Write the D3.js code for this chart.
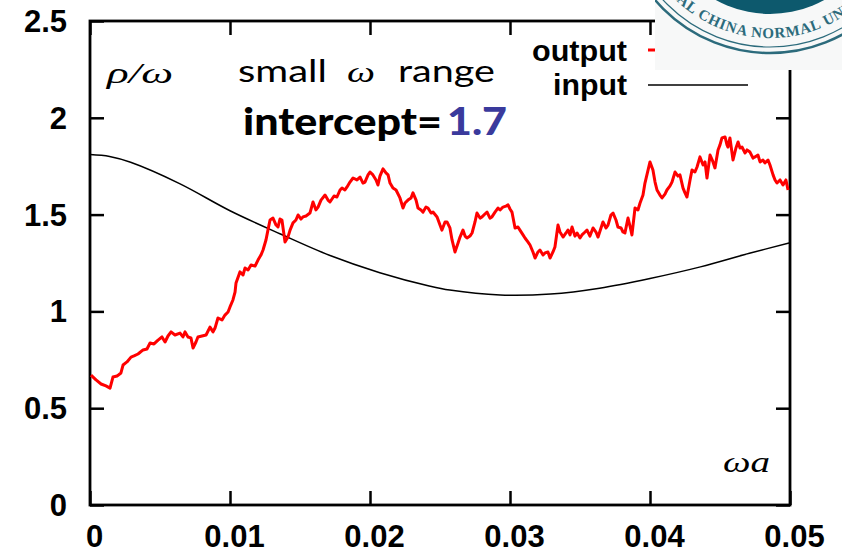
<!DOCTYPE html>
<html><head><meta charset="utf-8">
<script src="https://cdn.jsdelivr.net/npm/d3@7"></script>
<style>body{margin:0;background:#fff}</style>
</head><body><svg id="c" width="842" height="553"></svg>
<script>
const xTicks=[0,0.01,0.02,0.03,0.04,0.05];
const xTickLabels=["0","0.01","0.02","0.03","0.04","0.05"];
const yTicks=[0,0.5,1,1.5,2,2.5];
const yTickLabels=["0","0.5","1","1.5","2","2.5"];
const seriesNames=["output","input"];

const inputOmega=[0,0.0014,0.0029,0.0064,0.01,0.0136,0.0171,0.0207,0.0243,0.0257,0.0293,0.0329,0.0364,0.04,0.0436,0.0471,0.05];
const inputRho=[1.81,1.80,1.77,1.66,1.52,1.40,1.29,1.20,1.13,1.11,1.085,1.09,1.12,1.17,1.23,1.30,1.355];

const outputOmega=[
0.00007,0.00043,0.00079,0.00114,0.00143,0.00164,0.00193,0.00221,0.00236,0.00264,
0.00293,0.00314,0.00343,0.00379,0.00407,0.00429,0.00457,0.00486,0.00514,0.00536,
0.00557,0.00579,0.00607,0.00643,0.00664,0.00679,0.00700,0.00721,0.00736,0.00757,
0.00771,0.00800,0.00829,0.00857,0.00879,0.00893,0.00914,0.00943,0.00964,0.00986,
0.01000,0.01021,0.01036,0.01043,0.01071,0.01093,0.01107,0.01129,0.01150,0.01179,
0.01200,0.01221,0.01236,0.01257,0.01271,0.01286,0.01307,0.01329,0.01343,0.01357,
0.01371,0.01393,0.01414,0.01429,0.01450,0.01471,0.01486,0.01507,0.01521,0.01543,
0.01571,0.01593,0.01614,0.01629,0.01650,0.01679,0.01700,0.01714,0.01743,0.01764,
0.01786,0.01800,0.01821,0.01836,0.01857,0.01879,0.01907,0.01929,0.01950,0.01964,
0.01986,0.02000,0.02021,0.02043,0.02057,0.02071,0.02093,0.02114,0.02129,0.02143,
0.02164,0.02186,0.02214,0.02236,0.02250,0.02271,0.02293,0.02307,0.02329,0.02343,
0.02364,0.02379,0.02400,0.02414,0.02436,0.02450,0.02479,0.02500,0.02514,0.02536,
0.02550,0.02571,0.02586,0.02607,0.02629,0.02643,0.02664,0.02679,0.02693,0.02714,
0.02729,0.02750,0.02764,0.02786,0.02800,0.02821,0.02836,0.02857,0.02871,0.02893,
0.02914,0.02929,0.02950,0.02971,0.02986,0.03000,0.03014,0.03036,0.03057,0.03071,
0.03093,0.03107,0.03129,0.03143,0.03164,0.03179,0.03200,0.03214,0.03236,0.03250,
0.03271,0.03286,0.03307,0.03321,0.03343,0.03357,0.03379,0.03400,0.03414,0.03429,
0.03443,0.03464,0.03479,0.03500,0.03514,0.03536,0.03550,0.03571,0.03593,0.03614,
0.03629,0.03650,0.03664,0.03686,0.03700,0.03721,0.03736,0.03757,0.03771,0.03793,
0.03807,0.03821,0.03843,0.03857,0.03871,0.03893,0.03914,0.03929,0.03950,0.03964,
0.03986,0.04000,0.04021,0.04036,0.04050,0.04071,0.04086,0.04107,0.04121,0.04143,
0.04157,0.04179,0.04200,0.04214,0.04236,0.04250,0.04264,0.04286,0.04300,0.04321,
0.04336,0.04357,0.04379,0.04393,0.04407,0.04429,0.04450,0.04464,0.04486,0.04500,
0.04514,0.04536,0.04550,0.04557,0.04571,0.04593,0.04614,0.04629,0.04643,0.04657,
0.04679,0.04693,0.04714,0.04736,0.04750,0.04771,0.04786,0.04807,0.04821,0.04843,
0.04857,0.04879,0.04893,0.04907,0.04929,0.04950,0.04971,0.04986];

const outputRho=[
0.671,0.646,0.625,0.615,0.604,0.661,0.666,0.682,0.723,0.739,
0.764,0.770,0.780,0.801,0.806,0.837,0.832,0.852,0.868,0.842,
0.873,0.894,0.878,0.888,0.868,0.894,0.868,0.863,0.811,0.842,
0.868,0.873,0.878,0.919,0.894,0.914,0.966,0.956,0.981,0.997,
1.023,1.059,1.100,1.147,1.204,1.188,1.224,1.214,1.240,1.234,
1.265,1.291,1.317,1.369,1.420,1.472,1.482,1.446,1.436,1.477,
1.472,1.358,1.384,1.420,1.457,1.472,1.498,1.477,1.488,1.493,
1.508,1.565,1.524,1.539,1.575,1.601,1.575,1.565,1.596,1.591,
1.627,1.637,1.627,1.643,1.668,1.689,1.679,1.694,1.663,1.668,
1.705,1.720,1.705,1.679,1.653,1.699,1.736,1.715,1.705,1.663,
1.637,1.627,1.586,1.534,1.560,1.575,1.586,1.612,1.575,1.534,
1.524,1.513,1.539,1.534,1.508,1.513,1.488,1.446,1.420,1.462,
1.462,1.431,1.369,1.307,1.353,1.384,1.420,1.389,1.379,1.389,
1.405,1.462,1.508,1.482,1.488,1.503,1.513,1.482,1.488,1.513,
1.534,1.524,1.539,1.544,1.550,1.529,1.513,1.431,1.436,1.420,
1.395,1.379,1.358,1.343,1.307,1.276,1.307,1.317,1.291,1.302,
1.307,1.276,1.307,1.333,1.446,1.410,1.384,1.405,1.420,1.395,
1.436,1.389,1.405,1.379,1.395,1.410,1.420,1.389,1.431,1.410,
1.384,1.431,1.462,1.431,1.446,1.498,1.508,1.472,1.436,1.431,
1.410,1.405,1.482,1.441,1.395,1.534,1.524,1.560,1.601,1.663,
1.730,1.772,1.730,1.668,1.627,1.601,1.586,1.606,1.627,1.648,
1.668,1.720,1.699,1.705,1.637,1.612,1.591,1.679,1.730,1.720,
1.746,1.798,1.756,1.772,1.689,1.808,1.772,1.741,1.834,1.860,
1.896,1.901,1.860,1.849,1.896,1.782,1.844,1.875,1.844,1.849,
1.818,1.834,1.823,1.792,1.798,1.808,1.772,1.782,1.767,1.782,
1.756,1.705,1.679,1.663,1.679,1.653,1.679,1.627];

const svg=d3.select("#c");
svg.append("rect").attr("width",842).attr("height",553).attr("fill","#fff");

const L=90,R=790,T=21,B=505;
const x=d3.scaleLinear().domain([0,0.05]).range([L,R]);
const y=d3.scaleLinear().domain([0,2.5]).range([B,T]);

const tickFont="'Liberation Sans', Arial, sans-serif";

// axes
const gB=svg.append("g").attr("transform",`translate(0,${B})`)
  .call(d3.axisBottom(x).tickValues(xTicks).tickFormat((d,i)=>xTickLabels[i]).tickSizeInner(-14).tickSizeOuter(0).tickPadding(20));
const gL=svg.append("g").attr("transform",`translate(${L},0)`)
  .call(d3.axisLeft(y).tickValues(yTicks).tickFormat((d,i)=>yTickLabels[i]).tickSizeInner(-14).tickSizeOuter(0).tickPadding(23));
const gT=svg.append("g").attr("transform",`translate(0,${T})`)
  .call(d3.axisTop(x).tickValues(xTicks).tickFormat("").tickSizeInner(-14).tickSizeOuter(0));
const gR=svg.append("g").attr("transform",`translate(${R},0)`)
  .call(d3.axisRight(y).tickValues(yTicks).tickFormat("").tickSizeInner(-14).tickSizeOuter(0));
[gB,gL,gT,gR].forEach(g=>{
  g.select(".domain").remove();
  g.selectAll(".tick line").attr("stroke","#000").attr("stroke-width",2.5);
  g.selectAll(".tick text").attr("fill","#000").style("font-family",tickFont)
   .style("font-weight","bold").style("font-size","31px");
});
gB.selectAll(".tick text").attr("dx",4);
gL.selectAll(".tick text").attr("dy","0.34em");

svg.append("rect").attr("x",L).attr("y",T).attr("width",R-L).attr("height",B-T)
  .attr("fill","none").attr("stroke","#000").attr("stroke-width",2.8);

// series
const inputData=inputOmega.map((w,i)=>[w,inputRho[i]]);
const n=Math.min(outputOmega.length,outputRho.length);
const outputData=d3.range(n).map(i=>[outputOmega[i],outputRho[i]]);

svg.append("path").datum(inputData)
  .attr("d",d3.line().x(d=>x(d[0])).y(d=>y(d[1])).curve(d3.curveCatmullRom))
  .attr("fill","none").attr("stroke","#000").attr("stroke-width",1.5);
svg.append("path").datum(outputData)
  .attr("d",d3.line().x(d=>x(d[0])).y(d=>y(d[1])))
  .attr("fill","none").attr("stroke","#ff0000").attr("stroke-width",3).attr("stroke-linejoin","round");

// legend
const legY=[61,95], legLineY=[50,85], legColors=["#ff0000","#000"], legW=[3,1.5], legLen=[95,74];
seriesNames.forEach((s,i)=>{
  svg.append("text").attr("transform",`translate(627,${legY[i]}) scale(1,1.08)`)
    .attr("text-anchor","end").attr("textLength",legLen[i]).attr("lengthAdjust","spacingAndGlyphs")
    .style("font-family",tickFont).style("font-weight","bold")
    .style("font-size","28px").attr("fill","#000").text(s);
  svg.append("line").attr("x1",648).attr("x2",748).attr("y1",legLineY[i]).attr("y2",legLineY[i])
    .attr("stroke",legColors[i]).attr("stroke-width",legW[i]);
});

// annotations
const serif="'Liberation Serif','DejaVu Serif',serif";
svg.append("text").attr("x",107).attr("y",83).attr("textLength",66).attr("lengthAdjust","spacingAndGlyphs")
  .style("font-family",serif).style("font-style","italic").style("font-size","29px").text("ρ/ω");
const sans="Lato,'Open Sans',sans-serif";
svg.append("text").attr("x",238).attr("y",82).attr("textLength",89).attr("lengthAdjust","spacingAndGlyphs")
  .style("font-family",sans).style("font-size","31px").text("small");
svg.append("text").attr("x",347).attr("y",82).attr("textLength",28).attr("lengthAdjust","spacingAndGlyphs")
  .style("font-family",serif).style("font-style","italic").style("font-size","30px").text("ω");
svg.append("text").attr("x",398).attr("y",82).attr("textLength",97).attr("lengthAdjust","spacingAndGlyphs")
  .style("font-family",sans).style("font-size","31px").text("range");
svg.append("text").attr("x",243).attr("y",135).attr("textLength",199).attr("lengthAdjust","spacingAndGlyphs")
  .style("font-family",sans).style("font-weight","900").style("font-size","38px").attr("fill","#000").text("intercept=");
svg.append("text").attr("x",447).attr("y",135).attr("textLength",60).attr("lengthAdjust","spacingAndGlyphs")
  .style("font-family",sans).style("font-weight","900").style("font-size","38px").attr("fill","#3a3a9c").text("1.7");
svg.append("text").attr("x",723).attr("y",472).attr("textLength",47).attr("lengthAdjust","spacingAndGlyphs")
  .style("font-family",serif).style("font-style","italic").style("font-size","30px").text("ωa");

// seal logo overlay
const defs=svg.append("defs");
defs.append("clipPath").attr("id","sealClip").append("rect").attr("x",655).attr("y",0).attr("width",187).attr("height",70);
const cx=770, cy=-98;
defs.append("path").attr("id","sealArc")
  .attr("d",`M${cx-136},${cy} A136,136 0 0 0 ${cx+136},${cy}`);
const seal=svg.append("g").attr("clip-path","url(#sealClip)");
seal.append("rect").attr("x",655).attr("y",0).attr("width",187).attr("height",70).attr("fill","#f7f8f8");
seal.append("circle").attr("cx",cx).attr("cy",cy).attr("r",151).attr("fill","none").attr("stroke","#2c6b7c").attr("stroke-width",2.5);
seal.append("circle").attr("cx",cx).attr("cy",cy).attr("r",145).attr("fill","none").attr("stroke","#2c6b7c").attr("stroke-width",1.2);
seal.append("circle").attr("cx",cx).attr("cy",cy).attr("r",112).attr("fill","#0d596d");
seal.append("text").style("font-family",serif).style("font-weight","bold").style("font-size","15px")
  .style("letter-spacing","0.8px").attr("fill","#2c6b7c")
  .append("textPath").attr("href","#sealArc").attr("startOffset","50%").attr("text-anchor","middle")
  .text("CENTRAL CHINA NORMAL UNIVERSITY");
</script></body></html>
